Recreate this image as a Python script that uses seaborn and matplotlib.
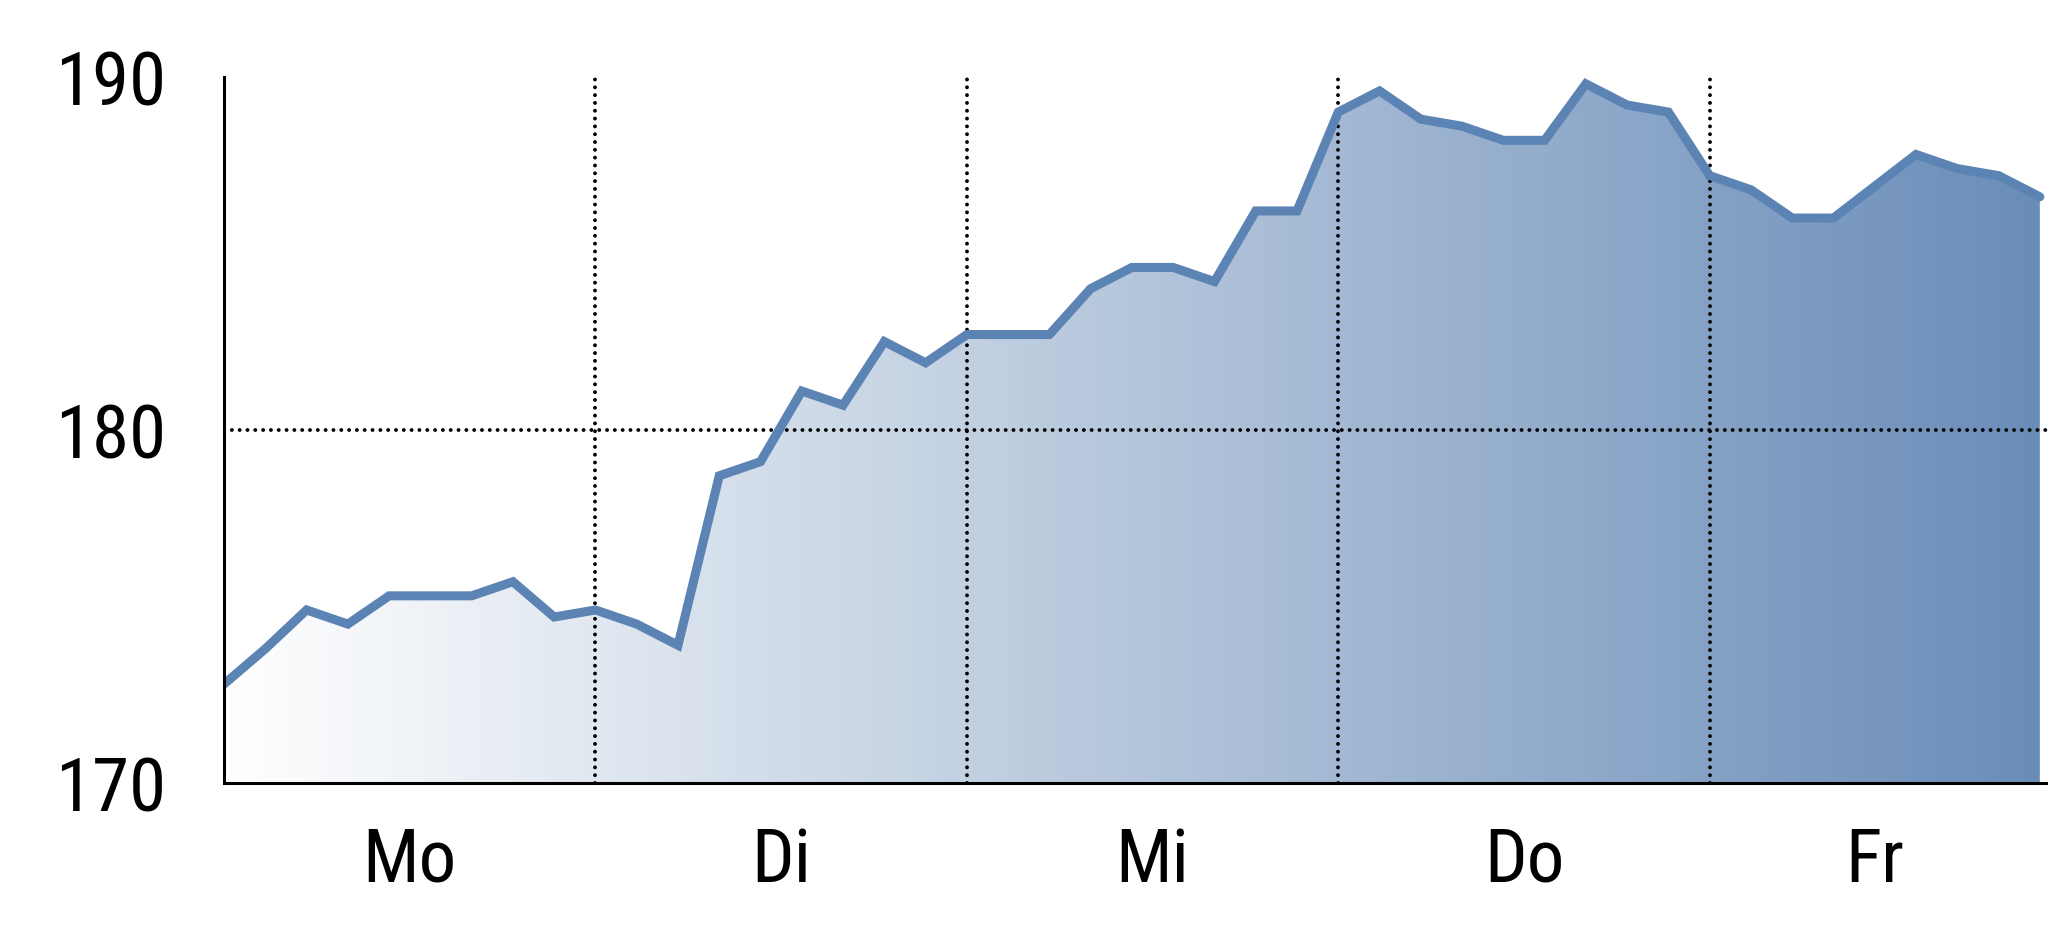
import numpy as np
import pandas as pd
import seaborn as sns
from matplotlib import pyplot as plt
from matplotlib.colors import LinearSegmentedColormap
from matplotlib.patches import Polygon

# Kursverlauf ueber eine Woche, 9 Werte pro Tag
values = [172.8, 173.8, 174.9, 174.5, 175.3, 175.3, 175.3, 175.7, 174.7,
          174.9, 174.5, 173.9, 178.7, 179.1, 181.1, 180.7, 182.5, 181.9,
          182.7, 182.7, 182.7, 184.0, 184.6, 184.6, 184.2, 186.2, 186.2,
          189.0, 189.6, 188.8, 188.6, 188.2, 188.2, 189.8, 189.2, 189.0,
          187.2, 186.8, 186.0, 186.0, 186.9, 187.8, 187.4, 187.2, 186.6]
days = ["Mo", "Di", "Mi", "Do", "Fr"]
day_ticks = [4.5, 13.5, 22.5, 31.5, 40]
day_bounds = [9, 18, 27, 36]
y_ticks = [170, 180, 190]

df = pd.DataFrame({"t": np.arange(len(values)), "kurs": values})

sns.set_style("white")
plt.rcParams['font.family'] = ['Roboto Condensed', 'DejaVu Sans']

fig = plt.figure(figsize=(20.48, 9.37), dpi=100)
ax = fig.add_axes([0.1094, 0.1633, 0.8906, 0.7537])

xmax = len(values) - 1
ax.set_xlim(0, xmax * 1.0045)
ax.set_ylim(170, 190)

# horizontaler Verlauf als Flaeche unter der Linie
cmap = LinearSegmentedColormap.from_list("fade", ["#ffffff", "#6a8db8"])
grad = np.linspace(0, 1, 256).reshape(1, -1)
img = ax.imshow(grad, cmap=cmap, aspect="auto", extent=[0, xmax, 170, 190],
                origin="lower", zorder=1)
verts = [(0, 170)] + list(zip(df["t"], df["kurs"])) + [(xmax, 170)]
clip = Polygon(verts, closed=True, transform=ax.transData, facecolor="none", edgecolor="none")
ax.add_patch(clip)
img.set_clip_path(clip)

# gepunktete Gitterlinien (runde Punkte)
dots = dict(color="black", lw=2.8, ls=(0, (0.01, 2.0)), dash_capstyle="round", zorder=2)
for b in day_bounds:
    ax.axvline(b, **dots)
ax.axhline(180, **dots)

sns.lineplot(data=df, x="t", y="kurs", ax=ax, color="#5b83b3", linewidth=6.5,
             zorder=3, solid_capstyle="round", solid_joinstyle="miter")

ax.set_xticks(day_ticks)
ax.set_xticklabels(days)
ax.set_yticks(y_ticks)
ax.tick_params(axis="both", length=0, labelsize=54, colors="black")
ax.tick_params(axis="x", pad=30)
ax.tick_params(axis="y", pad=42)
ax.set_xlabel("")
ax.set_ylabel("")
ax.grid(False)

for s in ["top", "right"]:
    ax.spines[s].set_visible(False)
for s in ["left", "bottom"]:
    ax.spines[s].set_color("black")
    ax.spines[s].set_linewidth(2.2)
    ax.spines[s].set_zorder(4)

fig.savefig("out.png", dpi=100, facecolor="white")
